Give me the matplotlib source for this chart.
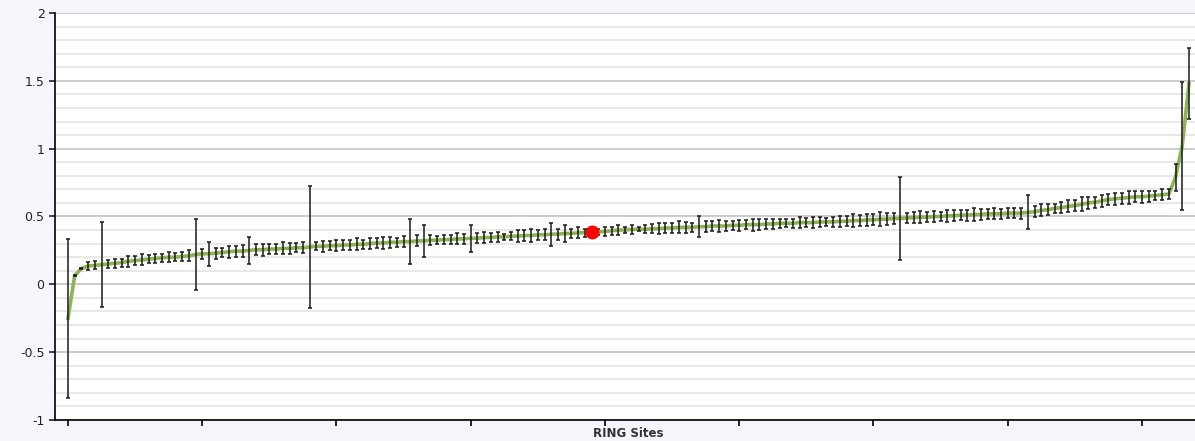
import numpy as np
import matplotlib.pyplot as plt
from matplotlib.ticker import MultipleLocator

# site estimates, sorted
values = [
    -0.25, 0.065, 0.115, 0.135, 0.14, 0.145, 0.15, 0.155, 0.16, 0.17,
    0.175, 0.18, 0.185, 0.19, 0.195, 0.20, 0.20, 0.205, 0.21, 0.22,
    0.225, 0.225, 0.23, 0.235, 0.24, 0.245, 0.245, 0.25, 0.255, 0.255,
    0.26, 0.26, 0.265, 0.265, 0.27, 0.27, 0.275, 0.28, 0.28, 0.285,
    0.285, 0.29, 0.29, 0.295, 0.295, 0.30, 0.305, 0.305, 0.31, 0.31,
    0.315, 0.315, 0.32, 0.32, 0.325, 0.325, 0.33, 0.33, 0.335, 0.335,
    0.34, 0.34, 0.345, 0.345, 0.35, 0.35, 0.355, 0.355, 0.36, 0.36,
    0.365, 0.365, 0.37, 0.37, 0.375, 0.375, 0.38, 0.38, 0.385, 0.385,
    0.39, 0.395, 0.40, 0.40, 0.405, 0.405, 0.405, 0.41, 0.41, 0.415,
    0.415, 0.42, 0.42, 0.42, 0.425, 0.425, 0.43, 0.43, 0.43, 0.435,
    0.435, 0.44, 0.44, 0.44, 0.445, 0.445, 0.45, 0.45, 0.45, 0.455,
    0.455, 0.455, 0.46, 0.46, 0.46, 0.465, 0.465, 0.47, 0.47, 0.475,
    0.475, 0.48, 0.48, 0.485, 0.485, 0.49, 0.49, 0.495, 0.495, 0.50,
    0.50, 0.505, 0.505, 0.51, 0.51, 0.515, 0.515, 0.52, 0.52, 0.52,
    0.525, 0.525, 0.525, 0.53, 0.535, 0.545, 0.55, 0.56, 0.565, 0.575,
    0.58, 0.59, 0.60, 0.605, 0.615, 0.625, 0.63, 0.635, 0.64, 0.645,
    0.645, 0.65, 0.655, 0.66, 0.665, 0.79, 1.02, 1.48,
]

# half-width of the error bars
errors = [
    0.585, 0.005, 0.005, 0.03, 0.03, 0.315, 0.03, 0.035, 0.03, 0.04,
    0.035, 0.04, 0.03, 0.035, 0.03, 0.035, 0.03, 0.035, 0.04, 0.26,
    0.035, 0.09, 0.04, 0.035, 0.045, 0.04, 0.045, 0.10, 0.04, 0.045,
    0.04, 0.035, 0.045, 0.04, 0.035, 0.04, 0.45, 0.03, 0.04, 0.035,
    0.04, 0.035, 0.04, 0.045, 0.035, 0.04, 0.035, 0.045, 0.04, 0.035,
    0.04, 0.165, 0.04, 0.12, 0.035, 0.03, 0.03, 0.035, 0.04, 0.035,
    0.10, 0.035, 0.04, 0.03, 0.035, 0.02, 0.03, 0.045, 0.04, 0.045,
    0.035, 0.04, 0.085, 0.04, 0.06, 0.035, 0.04, 0.03, 0.025, 0.02,
    0.035, 0.03, 0.035, 0.02, 0.035, 0.015, 0.03, 0.035, 0.04, 0.035,
    0.04, 0.045, 0.04, 0.035, 0.075, 0.04, 0.035, 0.045, 0.04, 0.035,
    0.04, 0.035, 0.045, 0.04, 0.035, 0.04, 0.035, 0.03, 0.035, 0.04,
    0.035, 0.04, 0.035, 0.03, 0.035, 0.04, 0.035, 0.045, 0.04, 0.045,
    0.04, 0.05, 0.045, 0.04, 0.305, 0.035, 0.04, 0.045, 0.035, 0.04,
    0.035, 0.045, 0.04, 0.035, 0.04, 0.045, 0.04, 0.035, 0.04, 0.035,
    0.035, 0.035, 0.04, 0.125, 0.04, 0.045, 0.04, 0.035, 0.04, 0.045,
    0.04, 0.05, 0.045, 0.04, 0.045, 0.04, 0.045, 0.04, 0.045, 0.04,
    0.045, 0.04, 0.035, 0.04, 0.035, 0.10, 0.47, 0.26,
]

highlight_index = 78
x_ticks = [0, 20, 40, 60, 80, 100, 120, 140, 160]
y_ticks = [-1, -0.5, 0, 0.5, 1, 1.5, 2]
y_labels = ['-1', '-0.5', '0', '0.5', '1', '1.5', '2']

x = np.arange(len(values))

fig = plt.figure(figsize=(11.95, 4.41), dpi=100, facecolor='#f5f6fc')
ax = fig.add_axes([0.046, 0.0476, 0.954, 0.923])
ax.set_facecolor('white')

# grid
ax.yaxis.set_minor_locator(MultipleLocator(0.1))
ax.grid(which='minor', axis='y', color='#e4e4e4', linewidth=1.2)
ax.grid(which='major', axis='y', color='#c4c4c4', linewidth=1.2)
ax.set_axisbelow(True)

ax.plot(x, values, color='#8db356', linewidth=2.6, zorder=2)
ax.errorbar(x, values, yerr=errors, fmt='none', ecolor='#1a1a1a',
            elinewidth=1.1, capsize=1.5, capthick=1.1, zorder=3)
ax.plot(x[highlight_index], values[highlight_index], 'o', color='#ff0000',
        markersize=9, zorder=4)

ax.set_xlim(-1.94, 167.9)
ax.set_ylim(-1, 2)
ax.set_xticks(x_ticks)
ax.set_xticklabels([])
ax.set_yticks(y_ticks)
ax.set_yticklabels(y_labels)
ax.tick_params(axis='y', which='minor', length=0)
ax.tick_params(axis='y', which='major', length=4, labelsize=9, colors='#222222')
ax.tick_params(axis='x', length=4, width=1.2)
ax.tick_params(axis='y', width=1.2)

for side in ['top', 'right']:
    ax.spines[side].set_visible(False)
ax.spines['left'].set_linewidth(1.2)
ax.spines['bottom'].set_linewidth(1.2)

ax.set_xlabel('RING Sites', fontsize=8.5, fontweight='bold', color='#333333')
ax.xaxis.set_label_coords(0.503, -0.018)
ax.xaxis.label.set_va('top')

fig.savefig('out.png', dpi=100, facecolor=fig.get_facecolor())
